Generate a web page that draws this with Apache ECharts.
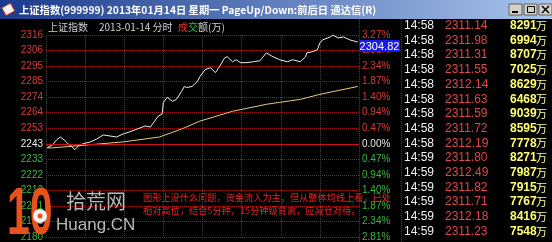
<!DOCTYPE html>
<html><head><meta charset="utf-8">
<script src="https://cdn.jsdelivr.net/npm/echarts@6/dist/echarts.min.js"></script>
<style>html,body{margin:0;padding:0;background:#000}#c{width:552px;height:242px}</style>
</head><body><div id="c"></div>
<script>
// ---- data ----
const prevClose = 2242.66;
const levelStep = 10.45;
const leftLabels = ['2316','2306','2295','2285','2274','2264','2253','2243','2233','2222','2212','2201','2191','2180'];
const rightLabels = ['3.27%','2.81%','2.34%','1.87%','1.40%','0.94%','0.47%','0.00%','0.47%','0.94%','1.40%','1.87%','2.34%','2.81%'];
const priceMinutes = [1,5,8,11,14,17,20,22,25,28,34,39,44,49,54,59,64,70,76,80,86,89,90,93,97,100,104,106,108,112,116,118,122,126,130,133,137,139,143,146,149,154,159,164,169,170,174,179,185,189,195,199,200,204,208,210,212,218,220,224,228,233,239];
const priceValues = [2239.9,2241.9,2245.2,2247.2,2245.2,2242.6,2240.6,2238.6,2241.3,2242.6,2243.9,2245.9,2248.6,2247.9,2247.2,2249.2,2250.6,2252.6,2254.6,2253.9,2261.2,2262.6,2270.5,2273.9,2271.2,2272.5,2277.9,2281.2,2280.5,2281.2,2284.5,2287.8,2292.5,2293.8,2290.5,2294.5,2300.5,2301.2,2297.8,2299.2,2297.2,2297.2,2297.8,2298.5,2303.8,2304.5,2301.2,2299.2,2297.8,2299.2,2297.8,2301.2,2303.8,2304.5,2305.8,2310.5,2312.5,2314.5,2315.8,2313.8,2314.5,2312.5,2311.1];
const avgMinutes = [1,5,28,59,87,104,118,143,169,179,195,210,239];
const avgValues = [2239.9,2239.9,2241.6,2243.9,2247.2,2252.6,2257.9,2264.5,2269.2,2270.5,2272.5,2275.9,2281.2];
const tickTimes = ['14:58','14:58','14:58','14:58','14:58','14:58','14:58','14:58','14:58','14:59','14:59','14:59','14:59','14:59','14:59'];
const tickPrices = ['2311.14','2311.98','2311.31','2311.55','2312.14','2311.63','2311.59','2311.72','2312.19','2311.80','2312.49','2311.82','2311.71','2312.18','2311.23'];
const tickVolumes = ['8291','6994','8707','7025','8629','6468','9039','8595','7778','8271','7987','7915','7767','8416','7548'];
const cursorValue = '2304.82';
const titleText = '上证指数(999999) 2013年01月14日 星期一 PageUp/Down:前后日 通达信(R)';
const noteLines = ['图形上没什么问题，资金流入为主，但从整体均线上看，已处','相对高位，结合5分钟，15分钟级背离，应减仓对待。'];

// ---- helpers ----
// axis runs in grid steps: 0 = bottom line (2180), 6 = previous close, 13 = top line (2316)
const toLevel = p => 6 + (p - prevClose) / levelStep;
const labelColor = i => i < 7 ? '#d83a3a' : (i === 7 ? '#e8e8e8' : '#3cb83c');
const CJK = '"Noto Sans CJK SC", sans-serif';
const NUM = '"Liberation Sans", Arial, sans-serif';

const chart = echarts.init(document.getElementById('c'), null, {renderer:'canvas'});

const graphics = [];
// title bar
graphics.push({type:'rect', shape:{x:0,y:0,width:552,height:19}, style:{fill:{type:'linear',x:0,y:0,x2:1,y2:0,colorStops:[{offset:0,color:'#1a3a8c'},{offset:1,color:'#a8c4ec'}]}}, z:10});
graphics.push({type:'rect', shape:{x:3,y:5,width:10,height:9}, rotation:0.5, originX:8, originY:9, style:{fill:'#f4f4f4', stroke:'#c03020', lineWidth:1}, z:11});
graphics.push({type:'text', x:19, y:10, style:{text:titleText, fill:'#ffffff', font:'bold 10.3px ' + CJK, verticalAlign:'middle'}, z:11});
[509,524,539].forEach((bx,k)=>{
  graphics.push({type:'rect', shape:{x:bx,y:4,width:13,height:11}, style:{fill:'#d4d0c8', stroke:'#606060', lineWidth:1}, z:11});
});
graphics.push({type:'rect', shape:{x:512,y:11,width:6,height:2}, style:{fill:'#000'}, z:12});
graphics.push({type:'rect', shape:{x:527.5,y:6.5,width:7,height:6}, style:{fill:'none', stroke:'#000', lineWidth:1}, z:12});
graphics.push({type:'line', shape:{x1:542,y1:6,x2:549,y2:13}, style:{stroke:'#000', lineWidth:1.5}, z:12});
graphics.push({type:'line', shape:{x1:549,y1:6,x2:542,y2:13}, style:{stroke:'#000', lineWidth:1.5}, z:12});
// frame lines in the header zone
graphics.push({type:'line', shape:{x1:359.5,y1:19,x2:359.5,y2:242}, style:{stroke:'#a01818', lineDash:[1,1], lineWidth:1}, z:1});
graphics.push({type:'line', shape:{x1:401.5,y1:19,x2:401.5,y2:242}, style:{stroke:'#a01818', lineDash:[1,1], lineWidth:1}, z:1});
// header
graphics.push({type:'text', x:48, y:27, style:{text:'上证指数', fill:'#d0d0d0', font:'10px ' + CJK, verticalAlign:'middle'}});
graphics.push({type:'text', x:99, y:27, style:{text:'2013-01-14 分时', fill:'#d0d0d0', font:'10px ' + CJK, verticalAlign:'middle'}});
graphics.push({type:'text', x:178, y:27, style:{text:'成', fill:'#e03030', font:'10px ' + CJK, verticalAlign:'middle'}});
graphics.push({type:'text', x:188, y:27, style:{text:'交', fill:'#30c030', font:'10px ' + CJK, verticalAlign:'middle'}});
graphics.push({type:'text', x:198, y:27, style:{text:'额(万)', fill:'#d0d0d0', font:'10px ' + CJK, verticalAlign:'middle'}});
// cursor value box
graphics.push({type:'rect', shape:{x:359,y:40,width:41,height:12}, style:{fill:'#1818f0'}, z:20});
graphics.push({type:'text', x:379.5, y:46.5, style:{text:cursorValue, fill:'#ffffff', font:'11px ' + NUM, align:'center', verticalAlign:'middle'}, z:21});
// tick list
tickTimes.forEach((t,i)=>{
  const y = 25.7 + i * 14.7;
  graphics.push({type:'text', x:404, y:y, style:{text:t, fill:'#f0f0f0', font:'12px ' + NUM, verticalAlign:'middle'}});
  graphics.push({type:'text', x:445, y:y, style:{text:tickPrices[i], fill:'#e04848', font:'12px ' + NUM, verticalAlign:'middle'}});
  graphics.push({type:'text', x:510, y:y, style:{text:tickVolumes[i], fill:'#ffff70', font:'bold 12px ' + NUM, verticalAlign:'middle'}});
  graphics.push({type:'text', x:536, y:y, style:{text:'万', fill:'#ffff90', font:'11px ' + CJK, verticalAlign:'middle'}});
});
// watermark
graphics.push({type:'text', x:7, y:216, scaleX:0.62, style:{text:'10', fill:'#e8501c', font:'bold 66px ' + NUM, verticalAlign:'middle'}, z:15});
graphics.push({type:'circle', shape:{cx:40,cy:216,r:7}, style:{fill:'#f2f2f2'}, z:16});
graphics.push({type:'circle', shape:{cx:40,cy:216,r:2.5}, style:{fill:'#e8501c'}, z:17});
graphics.push({type:'text', x:66, y:201, style:{text:'拾荒网', fill:'#b8b8b8', font:'20px ' + CJK, verticalAlign:'middle'}, z:15});
graphics.push({type:'text', x:56, y:225, style:{text:'Huang.CN', fill:'#b8b8b8', font:'17px ' + NUM, verticalAlign:'middle'}, z:15});
// annotation
noteLines.forEach((s,i)=>{
  graphics.push({type:'text', x:143, y:198 + i * 13, style:{text:s, fill:'#f02020', font:'9.2px ' + CJK, verticalAlign:'middle'}, z:18});
});

const dotted = {color:'#a01818', type:[1,1], width:1};
const option = {
  backgroundColor:'#000000',
  animation:false,
  grid:{left:46, right:193, top:35, bottom:3, containLabel:false},
  xAxis:{type:'value', min:0, max:240, interval:30, axisLine:{show:false}, axisTick:{show:false}, axisLabel:{show:false}, splitLine:{show:true, lineStyle:dotted}},
  yAxis:[
    {type:'value', min:0, max:13, interval:1, position:'left', axisLine:{show:false}, axisTick:{show:false},
     axisLabel:{fontSize:10, fontFamily:NUM, margin:3, formatter:v=>leftLabels[13-Math.round(v)], color:v=>labelColor(13-Math.round(Number(v)))},
     splitLine:{show:true, lineStyle:dotted}},
    {type:'value', min:0, max:13, interval:1, position:'right', axisLine:{show:false}, axisTick:{show:false},
     axisLabel:{fontSize:10, fontFamily:NUM, margin:3, align:'left', formatter:v=>rightLabels[13-Math.round(v)], color:v=>labelColor(13-Math.round(Number(v)))},
     splitLine:{show:false}}
  ],
  series:[
    {type:'line', name:'avg', data:avgMinutes.map((m,i)=>[m,toLevel(avgValues[i])]), showSymbol:false, lineStyle:{color:'#e8c878', width:1}, z:3},
    {type:'line', name:'price', data:priceMinutes.map((m,i)=>[m,toLevel(priceValues[i])]), showSymbol:false, lineStyle:{color:'#ececec', width:1}, z:4,
     markLine:{silent:true, symbol:'none', label:{show:false}, lineStyle:{color:'#c41414', type:'solid', width:1}, data:[{yAxis:toLevel(prevClose)}]}}
  ],
  graphic:graphics
};
chart.setOption(option);
</script>
</body></html>
